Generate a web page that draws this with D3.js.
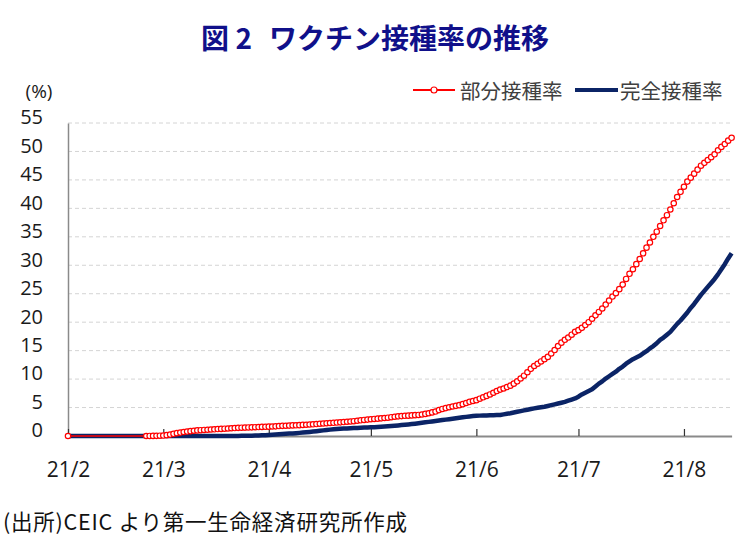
<!DOCTYPE html>
<html>
<head>
<meta charset="utf-8">
<script src="https://cdn.jsdelivr.net/npm/d3@7"></script>
<style>
	body { margin: 0; background: #fff; }
	svg { display: block; }
	.axis text { font-family: "Open Sans", sans-serif; fill: #1a1a1a; }
	.jp { font-family: "Noto Sans CJK JP", sans-serif; }
</style>
</head>
<body>
<svg width="744" height="544"></svg>
<script>
// dates: Feb 1, then daily from Feb 24 to Aug 15 2021
var firstDate = "2021-02-01",
	dailyStart = "2021-02-24",
	dailyEnd = "2021-08-16";

// 部分接種率 (%), one value per date
var partialRate = [0,
	0.00, 0.01, 0.02, 0.03, 0.05,
	0.08, 0.15, 0.25, 0.38, 0.5, 0.6, 0.7, 0.78, 0.85, 0.92, 0.98, 1.02, 1.06, 1.1, 1.14, 1.18, 1.22, 1.25, 1.28, 1.32, 1.36, 1.4, 1.43, 1.46, 1.48, 1.5, 1.52, 1.55, 1.57, 1.6, 1.62,
	1.64, 1.67, 1.7, 1.75, 1.78, 1.8, 1.83, 1.86, 1.88, 1.91, 1.95, 1.98, 2.02, 2.06, 2.1, 2.15, 2.2, 2.24, 2.28, 2.32, 2.36, 2.4, 2.45, 2.5, 2.55, 2.6, 2.68, 2.76, 2.82, 2.88,
	2.94, 3.0, 3.05, 3.1, 3.16, 3.22, 3.3, 3.38, 3.45, 3.5, 3.55, 3.58, 3.62, 3.66, 3.7, 3.78, 3.88, 4.0, 4.15, 4.3, 4.55, 4.75, 4.9, 5.05, 5.18, 5.3, 5.42, 5.6, 5.8, 6.0, 6.15,
	6.3, 6.55, 6.8, 7.05, 7.3, 7.6, 7.9, 8.15, 8.35, 8.6, 8.85, 9.2, 9.6, 10.1, 10.6, 11.2, 11.8, 12.3, 12.7, 13.1, 13.5, 13.9, 14.5, 15.1, 15.8, 16.4, 16.9, 17.3, 17.8, 18.3,
	18.6, 19.0, 19.5, 20.0, 20.6, 21.2, 21.8, 22.4, 23.1, 23.8, 24.5, 25.1, 25.8, 26.6, 27.6, 28.5, 29.3, 30.2, 31.1, 32.1, 33.1, 34.0, 35.0, 35.9, 36.9, 37.9, 38.8, 39.8, 40.9, 42.0, 42.9,
	43.8, 44.7, 45.4, 46.1, 46.8, 47.5, 48.0, 48.5, 49.0, 49.5, 50.2, 50.8, 51.3, 51.9, 52.4];

// 完全接種率 (%)
var fullRate = [0,
	0, 0, 0, 0, 0,
	0, 0, 0, 0, 0, 0, 0, 0, 0, 0, 0, 0, 0, 0, 0, 0, 0, 0, 0.01, 0.01, 0.01, 0.02, 0.02, 0.03, 0.04, 0.05, 0.06, 0.08, 0.1, 0.12, 0.15,
	0.18, 0.22, 0.26, 0.3, 0.34, 0.38, 0.42, 0.46, 0.5, 0.55, 0.6, 0.66, 0.72, 0.78, 0.85, 0.92, 0.99, 1.06, 1.12, 1.18, 1.23, 1.27, 1.3, 1.33, 1.36, 1.39, 1.42, 1.45, 1.48, 1.5,
	1.52, 1.55, 1.58, 1.62, 1.66, 1.7, 1.75, 1.8, 1.86, 1.92, 1.98, 2.04, 2.1, 2.17, 2.24, 2.32, 2.4, 2.48, 2.56, 2.64, 2.72, 2.8, 2.88, 2.96, 3.04, 3.12, 3.2, 3.28, 3.36, 3.44, 3.5,
	3.55, 3.58, 3.6, 3.62, 3.64, 3.66, 3.68, 3.7, 3.8, 3.9, 4.0, 4.12, 4.25, 4.38, 4.5, 4.62, 4.74, 4.85, 4.95, 5.05, 5.15, 5.28, 5.42, 5.56, 5.7, 5.85, 6.0, 6.2, 6.4, 6.6,
	6.9, 7.3, 7.6, 7.9, 8.2, 8.7, 9.2, 9.6, 10.1, 10.5, 10.9, 11.3, 11.8, 12.2, 12.7, 13.1, 13.5, 13.8, 14.1, 14.5, 14.9, 15.4, 15.8, 16.3, 16.9, 17.3, 17.8, 18.3, 19.0, 19.7, 20.3,
	21.0, 21.7, 22.5, 23.2, 24.0, 24.8, 25.5, 26.2, 26.9, 27.6, 28.4, 29.3, 30.2, 31.2, 32.1];

var yTicks = [0, 5, 10, 15, 20, 25, 30, 35, 40, 45, 50, 55];
var seriesNames = ["部分接種率", "完全接種率"];
var titleText = ["図 2", "ワクチン接種率の推移"];
var sourceText = "(出所)CEIC より第一生命経済研究所作成";

var parseDate = d3.timeParse("%Y-%m-%d");
var dates = [parseDate(firstDate)].concat(d3.timeDay.range(parseDate(dailyStart), parseDate(dailyEnd)));
var data = dates.map(function(d, i) { return {date: d, partial: partialRate[i], full: fullRate[i]}; });

var svg = d3.select("svg");

var x = d3.scaleTime()
	.domain([dates[0], dates[dates.length - 1]])
	.range([68, 731.6]);

var y = d3.scaleLinear()
	.domain([0, 55])
	.range([436, 123]);

var red = "#ff0000",
	navy = "#0b2466";

// title
var title = svg.append("text")
	.attr("class", "jp")
	.attr("x", 375)
	.attr("y", 49)
	.attr("text-anchor", "middle")
	.style("font-size", "28px")
	.style("font-weight", "700")
	.style("fill", "#10108a");
title.append("tspan").text(titleText[0]);
title.append("tspan").attr("dx", 17).text(titleText[1]);

// grid
svg.append("g")
	.selectAll("line")
	.data(yTicks.filter(function(t) { return t > 0; }))
	.enter().append("line")
	.attr("x1", 68)
	.attr("x2", 732)
	.attr("y1", function(d) { return y(d); })
	.attr("y2", function(d) { return y(d); })
	.attr("stroke", "#d4d4d4")
	.attr("stroke-width", 1)
	.attr("stroke-dasharray", "4,3");

// y axis
var gy = svg.append("g")
	.attr("class", "axis")
	.attr("transform", "translate(68,0)")
	.call(d3.axisLeft(y).tickValues(yTicks).tickSize(0).tickPadding(25));
gy.select(".domain").attr("stroke", "#8a8a8a").attr("stroke-width", 1.5);
gy.selectAll("text").attr("y", -5.5).style("font-size", "20px");

svg.append("text")
	.attr("x", 39)
	.attr("y", 98)
	.attr("text-anchor", "middle")
	.style("font-family", "Open Sans, sans-serif")
	.style("font-size", "19px")
	.style("fill", "#1a1a1a")
	.text("(%)");

// x axis
var gx = svg.append("g")
	.attr("class", "axis")
	.attr("transform", "translate(0,436)")
	.call(d3.axisBottom(x)
		.ticks(d3.timeMonth.every(1))
		.tickFormat(d3.timeFormat("%y/%-m"))
		.tickSizeInner(-7)
		.tickSizeOuter(0)
		.tickPadding(26));
gx.select(".domain").attr("stroke", "#8a8a8a").attr("stroke-width", 1.8);
gx.selectAll(".tick line").attr("stroke", "#333").attr("stroke-width", 1.2);
gx.selectAll("text").style("font-size", "21px");

// series
var lineFull = d3.line()
	.x(function(d) { return x(d.date); })
	.y(function(d) { return y(d.full); });

var linePartial = d3.line()
	.x(function(d) { return x(d.date); })
	.y(function(d) { return y(d.partial); });

svg.append("path")
	.datum(data)
	.attr("fill", "none")
	.attr("stroke", navy)
	.attr("stroke-width", 4.5)
	.attr("stroke-linejoin", "round")
	.attr("d", lineFull);

svg.append("path")
	.datum(data)
	.attr("fill", "none")
	.attr("stroke", red)
	.attr("stroke-width", 1.5)
	.attr("d", linePartial);

svg.append("g")
	.selectAll("circle")
	.data(data)
	.enter().append("circle")
	.attr("cx", function(d) { return x(d.date); })
	.attr("cy", function(d) { return y(d.partial); })
	.attr("r", 2.7)
	.attr("fill", "#fff")
	.attr("stroke", red)
	.attr("stroke-width", 1.2);

// legend
var legend = svg.append("g");
legend.append("line")
	.attr("x1", 413).attr("x2", 455)
	.attr("y1", 90).attr("y2", 90)
	.attr("stroke", red)
	.attr("stroke-width", 2);
legend.append("circle")
	.attr("cx", 434).attr("cy", 90)
	.attr("r", 3)
	.attr("fill", "#fff")
	.attr("stroke", red)
	.attr("stroke-width", 1.2);
legend.append("text")
	.attr("class", "jp")
	.attr("x", 460).attr("y", 90)
	.attr("dominant-baseline", "central")
	.style("font-size", "20.5px")
	.style("fill", "#404040")
	.text(seriesNames[0]);
legend.append("line")
	.attr("x1", 575).attr("x2", 618)
	.attr("y1", 90).attr("y2", 90)
	.attr("stroke", navy)
	.attr("stroke-width", 4);
legend.append("text")
	.attr("class", "jp")
	.attr("x", 620).attr("y", 90)
	.attr("dominant-baseline", "central")
	.style("font-size", "20.5px")
	.style("fill", "#404040")
	.text(seriesNames[1]);

// source note
svg.append("text")
	.attr("class", "jp")
	.attr("x", 3)
	.attr("y", 520)
	.attr("dominant-baseline", "central")
	.attr("textLength", 404)
	.attr("lengthAdjust", "spacing")
	.style("font-size", "21.5px")
	.style("fill", "#111")
	.text(sourceText);
</script>
</body>
</html>
